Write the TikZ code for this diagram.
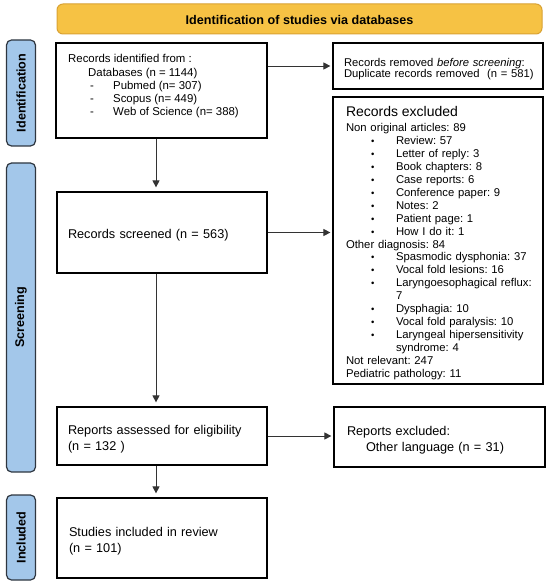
\documentclass[tikz,border=0pt]{standalone}
\usepackage{fontspec}
\setmainfont{Liberation Sans}
\usetikzlibrary{arrows.meta}
\frenchspacing
\definecolor{bannerfill}{HTML}{F6C244}
\definecolor{bannerdraw}{HTML}{D9A233}
\definecolor{labfill}{HTML}{A3C7EA}
\definecolor{labdraw}{HTML}{2E3640}
\definecolor{arrcol}{HTML}{333333}
\newcommand{\pdash}[1]{\mbox{\hspace{22pt}\makebox[23pt][l]{-}#1}}
\newcommand{\pbul}[1]{\mbox{\hspace{25pt}\makebox[25pt][l]{\fontsize{9.5}{9.5}\selectfont\textbullet}#1}}
\newcommand{\tstrut}[1]{\rule{0pt}{#1}}
\begin{document}
\begin{tikzpicture}[x=1pt,y=-1pt,
  txt/.style={font=\fontsize{11.3}{12.9}\selectfont},
  bigtxt/.style={font=\fontsize{12.7}{15.5}\selectfont},
  box/.style={draw=black, line width=1.2pt, fill=white, inner xsep=12pt, inner ysep=0pt, align=left, txt},
  lab/.style={draw=labdraw, fill=labfill, line width=1.2pt, rounded corners=5pt, rotate=90,
    font=\fontsize{12.6}{14}\selectfont\bfseries, minimum height=29pt, inner sep=0pt},
  arr/.style={draw=arrcol, line width=0.9pt, -{Triangle[length=7pt,width=7pt]}},
  varr/.style={arr, shorten >=4pt},
  harr/.style={arr, shorten >=2pt}]
\path[use as bounding box] (0,0) rectangle (550,585);

\node[draw=bannerdraw, fill=bannerfill, rounded corners=6pt, line width=1pt,
  minimum width=485pt, minimum height=30pt, inner sep=0pt,
  font=\fontsize{12.6}{14}\selectfont\bfseries] (banner) at (299.5,19) {\tstrut{11pt}Identification of studies via databases};

\node[lab, minimum width=106pt] (idlab) at (21,93) {Identification};
\node[lab, minimum width=309pt] (scrlab) at (21,317.5) {Screening};
\node[lab, minimum width=85pt] (inclab) at (21,537.5) {Included};

\node[box, text width=187pt, minimum height=95pt] (idbox) at (161.5,90.5) {};
\node[font=\fontsize{11.4}{13.1}\selectfont, anchor=north west, inner sep=0pt, align=left] (idtxt) at (68,54.5) {Records identified from :\\
\mbox{\hspace{20pt}Databases (n = 1144)}\\
\pdash{Pubmed (n= 307)}\\
\pdash{Scopus (n= 449)}\\
\pdash{Web of Science (n= 388)}};

\node[box, inner xsep=11pt, text width=188pt, minimum height=46pt, font=\fontsize{11.25}{11.8}\selectfont] (removed) at (438,66)
  {\tstrut{14.2pt}Records removed \textit{before screening}:\\\mbox{Duplicate records removed~~(n = 581)}};

\node[box, inner xsep=13pt, text width=184pt, minimum height=287pt] (excl) at (438,240.5)
  {{\fontsize{14}{15}\selectfont\tstrut{15pt}Records excluded}\\[2.5pt]
  Non original articles: 89\\
  \pbul{Review: 57}\\
  \pbul{Letter of reply: 3}\\
  \pbul{Book chapters: 8}\\
  \pbul{Case reports: 6}\\
  \pbul{Conference paper: 9}\\
  \pbul{Notes: 2}\\
  \pbul{Patient page: 1}\\
  \pbul{How I do it: 1}\\
  Other diagnosis: 84\\
  \pbul{Spasmodic dysphonia: 37}\\
  \pbul{Vocal fold lesions: 16}\\
  \pbul{Laryngoesophagical reflux:}\\
  \mbox{\hspace{50pt}7}\\
  \pbul{Dysphagia: 10}\\
  \pbul{Vocal fold paralysis: 10}\\
  \pbul{Laryngeal hipersensitivity}\\
  \mbox{\hspace{50pt}syndrome: 4}\\
  Not relevant: 247\\
  Pediatric pathology: 11};

\node[box, bigtxt, inner xsep=11pt, text width=188pt, minimum height=81pt] (screened) at (162,232.5) {\tstrut{15.3pt}Records screened (n = 563)};

\node[box, bigtxt, inner xsep=11pt, text width=188pt, minimum height=58pt] (assessed) at (162,436) {\tstrut{15.3pt}Reports assessed for eligibility\\(n = 132 )};

\node[box, bigtxt, inner xsep=13pt, text width=185pt, minimum height=60pt] (rexcl) at (439.5,437) {\tstrut{15.3pt}Reports excluded:\\\mbox{\hspace{19pt}Other language (n = 31)}};

\node[box, bigtxt, inner xsep=12pt, text width=186pt, minimum height=80pt] (studies) at (162,538) {\tstrut{15.3pt}Studies included in review\\(n = 101)};

\coordinate (vx) at (156,0);
\draw[varr] (idbox.south -| vx) -- (screened.north -| vx);
\draw[harr] (idbox.east |- removed.west) -- (removed.west);
\draw[harr] (screened.east) -- (screened.east -| excl.west);
\draw[varr] (screened.south -| vx) -- (assessed.north -| vx);
\draw[harr] (assessed.east) -- (assessed.east -| rexcl.west);
\draw[varr] (assessed.south -| vx) -- (studies.north -| vx);
\end{tikzpicture}
\end{document}
